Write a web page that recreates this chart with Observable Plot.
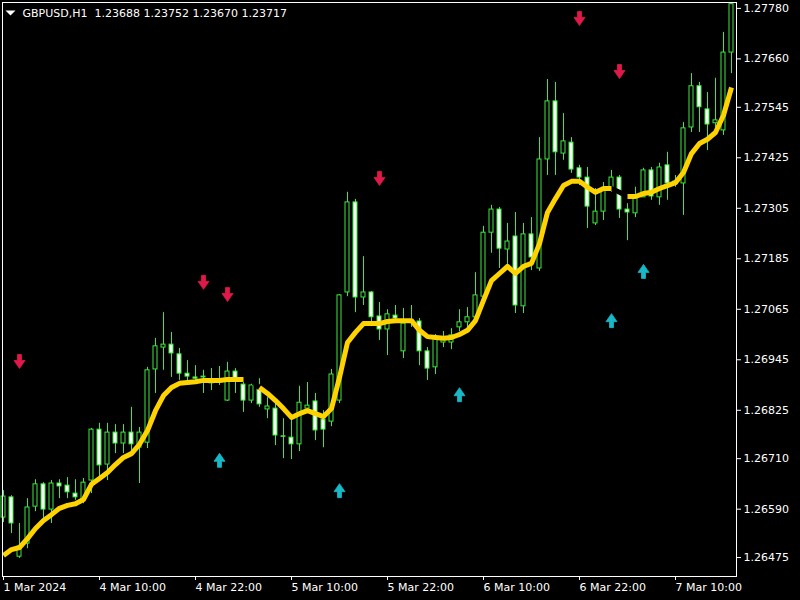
<!DOCTYPE html>
<html>
<head>
<meta charset="utf-8">
<script src="https://cdn.jsdelivr.net/npm/d3@7"></script>
<script src="https://cdn.jsdelivr.net/npm/@observablehq/plot@0.6"></script>
<style>
  html, body { margin: 0; padding: 0; background: #000; }
  #chart svg { display: block; }
</style>
</head>
<body>
<div id="chart"></div>
<script>
// ---- data (H1 candles, index 0 = 1 Mar 22:00) ----
const opens = [
1.26570, 1.26618, 1.26477, 1.26508, 1.26596, 1.26649, 1.26589, 1.26651, 1.26646, 1.26627,
1.26611, 1.26658, 1.26779, 1.26696, 1.26772, 1.26746, 1.26772, 1.26736, 1.26748, 1.26922,
1.26974, 1.26981, 1.26958, 1.26912, 1.26903, 1.26903, 1.26893, 1.26891, 1.26848, 1.26917,
1.26886, 1.26848, 1.26874, 1.26827, 1.26829, 1.26763, 1.26760, 1.26744, 1.26829, 1.26846,
1.26803, 1.26798, 1.26848, 1.27105, 1.27319, 1.27093, 1.27105, 1.27048, 1.27017, 1.27050,
1.26965, 1.27034, 1.27036, 1.26965, 1.26927, 1.26986, 1.26986, 1.27022, 1.27034, 1.27046,
1.27095, 1.27247, 1.27302, 1.27207, 1.27238, 1.27072, 1.27243, 1.27162, 1.27421, 1.27559,
1.27435, 1.27461, 1.27400, 1.27378, 1.27269, 1.27297, 1.27352, 1.27378, 1.27302, 1.27293,
1.27331, 1.27395, 1.27331, 1.27407, 1.27364, 1.27364, 1.27497, 1.27595, 1.27540, 1.27507,
1.27490, 1.27675
];
const highs = [
1.26634, 1.26622, 1.26556, 1.26615, 1.26660, 1.26653, 1.26658, 1.26660, 1.26665, 1.26660,
1.26663, 1.26782, 1.26794, 1.26794, 1.26791, 1.26791, 1.26832, 1.26784, 1.26927, 1.26996,
1.27057, 1.27010, 1.26972, 1.26943, 1.26931, 1.26920, 1.26924, 1.26929, 1.26939, 1.26924,
1.26903, 1.26900, 1.26900, 1.26855, 1.26841, 1.26805, 1.26805, 1.26882, 1.26891, 1.26865,
1.26824, 1.26922, 1.27100, 1.27343, 1.27326, 1.27190, 1.27107, 1.27081, 1.27064, 1.27074,
1.27067, 1.27074, 1.27043, 1.26974, 1.27005, 1.27012, 1.27019, 1.27064, 1.27069, 1.27152,
1.27262, 1.27312, 1.27307, 1.27269, 1.27295, 1.27269, 1.27283, 1.27473, 1.27611, 1.27604,
1.27530, 1.27473, 1.27407, 1.27402, 1.27352, 1.27366, 1.27395, 1.27383, 1.27316, 1.27355,
1.27400, 1.27402, 1.27412, 1.27438, 1.27383, 1.27509, 1.27625, 1.27604, 1.27580, 1.27614,
1.27723, 1.27794
];
const lows = [
1.26558, 1.26532, 1.26473, 1.26496, 1.26584, 1.26568, 1.26556, 1.26615, 1.26615, 1.26611,
1.26603, 1.26627, 1.26663, 1.26658, 1.26722, 1.26722, 1.26722, 1.26651, 1.26734, 1.26865,
1.26920, 1.26903, 1.26896, 1.26891, 1.26889, 1.26865, 1.26872, 1.26884, 1.26846, 1.26865,
1.26820, 1.26841, 1.26832, 1.26805, 1.26741, 1.26710, 1.26708, 1.26727, 1.26820, 1.26753,
1.26736, 1.26786, 1.26841, 1.27095, 1.27057, 1.27074, 1.27034, 1.26991, 1.26955, 1.27031,
1.26948, 1.27022, 1.26931, 1.26896, 1.26910, 1.26974, 1.26969, 1.27012, 1.27019, 1.27038,
1.27086, 1.27198, 1.27162, 1.27164, 1.27055, 1.27055, 1.27157, 1.27155, 1.27383, 1.27383,
1.27419, 1.27388, 1.27359, 1.27257, 1.27264, 1.27276, 1.27343, 1.27281, 1.27228, 1.27283,
1.27331, 1.27324, 1.27312, 1.27324, 1.27355, 1.27288, 1.27485, 1.27485, 1.27442, 1.27485,
1.27478, 1.27625
];
const closes = [
1.26620, 1.26556, 1.26501, 1.26594, 1.26649, 1.26589, 1.26651, 1.26644, 1.26630, 1.26618,
1.26653, 1.26779, 1.26694, 1.26772, 1.26746, 1.26772, 1.26744, 1.26772, 1.26920, 1.26977,
1.26981, 1.26960, 1.26912, 1.26905, 1.26900, 1.26905, 1.26889, 1.26893, 1.26917, 1.26896,
1.26848, 1.26884, 1.26839, 1.26834, 1.26765, 1.26762, 1.26744, 1.26843, 1.26836, 1.26777,
1.26779, 1.26910, 1.27098, 1.27319, 1.27093, 1.27105, 1.27046, 1.27017, 1.27053, 1.27043,
1.27031, 1.27036, 1.26965, 1.26924, 1.26998, 1.26998, 1.27003, 1.27034, 1.27046, 1.27098,
1.27247, 1.27302, 1.27209, 1.27226, 1.27074, 1.27243, 1.27188, 1.27421, 1.27559, 1.27438,
1.27464, 1.27397, 1.27378, 1.27309, 1.27297, 1.27347, 1.27378, 1.27302, 1.27295, 1.27331,
1.27395, 1.27333, 1.27402, 1.27364, 1.27369, 1.27495, 1.27595, 1.27545, 1.27504, 1.27514,
1.27675, 1.27790
];
// moving average (yellow line)
const ma = [
1.26480, 1.26494, 1.26499, 1.26520, 1.26544, 1.26563, 1.26577, 1.26592, 1.26599, 1.26603,
1.26613, 1.26649, 1.26663, 1.26677, 1.26696, 1.26713, 1.26722, 1.26744, 1.26777, 1.26824,
1.26860, 1.26879, 1.26889, 1.26891, 1.26893, 1.26896, 1.26896, 1.26896, 1.26898, 1.26898,
1.26898, 1.26896, 1.26879, 1.26865, 1.26848, 1.26829, 1.26808, 1.26817, 1.26824, 1.26817,
1.26810, 1.26829, 1.26903, 1.26986, 1.27010, 1.27031, 1.27031, 1.27031, 1.27036, 1.27038,
1.27038, 1.27038, 1.27015, 1.27000, 1.26998, 1.26996, 1.26998, 1.27005, 1.27015, 1.27038,
1.27086, 1.27133, 1.27150, 1.27167, 1.27150, 1.27167, 1.27174, 1.27221, 1.27295, 1.27328,
1.27359, 1.27369, 1.27369, 1.27355, 1.27343, 1.27352, 1.27352, 1.27343, 1.27333, 1.27333,
1.27340, 1.27343, 1.27352, 1.27359, 1.27366, 1.27390, 1.27435, 1.27459, 1.27469, 1.27485,
1.27526, 1.27592
];
// stretches where the line is drawn in black (hidden on the black background)
const maBlackRanges = [[30, 32], [76, 78]];

// signal arrows
const downIdx = [2, 25, 28, 47, 72, 77];
const downPrice = [1.26941, 1.27129, 1.27100, 1.27376, 1.27756, 1.27630];
const upIdx = [27, 42, 57, 76, 80];
const upPrice = [1.26706, 1.26634, 1.26862, 1.27038, 1.27155];

// axes
const yTicks = [1.26475, 1.26590, 1.26710, 1.26825, 1.26945, 1.27065, 1.27185, 1.27305, 1.27425, 1.27545, 1.27660, 1.27780];
const xTickIdx = [0, 12, 24, 36, 48, 60, 72, 84];
const xTickLabels = ["1 Mar 2024", "4 Mar 10:00", "4 Mar 22:00", "5 Mar 10:00", "5 Mar 22:00", "6 Mar 10:00", "6 Mar 22:00", "7 Mar 10:00"];
const titleText = "GBPUSD,H1\u00a0\u00a01.23688 1.23752 1.23670 1.23717";

// ---- build ----
const GREEN = "#3ee83e";
const RED = "#e0194a";
const CYAN = "#17b8c8";
const YELLOW = "#ffd200";

const idx = d3.range(opens.length);
const candles = idx.map(i => ({i, o: opens[i], h: highs[i], l: lows[i], c: closes[i]}));
const inBlack = i => maBlackRanges.some(([a, b]) => i >= a && i <= b);
const inBlackInner = i => maBlackRanges.some(([a, b]) => i > a && i < b);
const maPts = idx.map(i => ({i, yellow: inBlackInner(i) ? NaN : ma[i], black: inBlack(i) ? ma[i] : NaN}));
const downs = downIdx.map((i, k) => ({i, p: downPrice[k]}));
const ups = upIdx.map((i, k) => ({i, p: upPrice[k]}));
const xLabelMap = new Map(xTickIdx.map((d, k) => [d, xTickLabels[k]]));

const arrowDown = {draw(ctx) {
  ctx.moveTo(-2, -7); ctx.lineTo(2, -7); ctx.lineTo(2, -1); ctx.lineTo(5.5, -1);
  ctx.lineTo(0, 7); ctx.lineTo(-5.5, -1); ctx.lineTo(-2, -1); ctx.closePath();
}};
const arrowUp = {draw(ctx) {
  ctx.moveTo(-2, 7); ctx.lineTo(2, 7); ctx.lineTo(2, 1); ctx.lineTo(5.5, 1);
  ctx.lineTo(0, -7); ctx.lineTo(-5.5, 1); ctx.lineTo(-2, 1); ctx.closePath();
}};
const triDown = {draw(ctx) {
  ctx.moveTo(-5, -2.5); ctx.lineTo(5, -2.5); ctx.lineTo(0, 2.5); ctx.closePath();
}};

const chart = Plot.plot({
  width: 800,
  height: 600,
  marginLeft: 2,
  marginRight: 64,
  marginTop: 2,
  marginBottom: 24,
  style: {background: "#000", color: "#fff", fontFamily: "DejaVu Sans", fontSize: "11px"},
  x: {type: "linear", domain: [-0.125, 91.625]},
  y: {type: "linear", domain: [1.26430, 1.27794]},
  marks: [
    Plot.ruleX(candles, {x: "i", y1: "l", y2: "h", stroke: GREEN, strokeWidth: 1}),
    Plot.rect(candles, {filter: d => d.c >= d.o, x1: d => d.i - 0.25, x2: d => d.i + 0.25, y1: "o", y2: "c", fill: "#000", stroke: GREEN, strokeWidth: 1}),
    Plot.rect(candles, {filter: d => d.c < d.o, x1: d => d.i - 0.25, x2: d => d.i + 0.25, y1: "o", y2: "c", fill: "#f4fff4", stroke: GREEN, strokeWidth: 1}),
    Plot.line(maPts, {x: "i", y: "black", stroke: "#000", strokeWidth: 5, strokeLinejoin: "round"}),
    Plot.line(maPts, {x: "i", y: "yellow", stroke: YELLOW, strokeWidth: 5, strokeLinejoin: "round", strokeLinecap: "butt"}),
    Plot.dot(downs, {x: "i", y: "p", symbol: arrowDown, fill: RED, stroke: RED, strokeWidth: 0.8}),
    Plot.dot(ups, {x: "i", y: "p", symbol: arrowUp, fill: CYAN, stroke: CYAN, strokeWidth: 0.8}),
    Plot.frame({stroke: "#fff", strokeWidth: 1}),
    Plot.axisY({anchor: "right", ticks: yTicks, tickSize: 4, tickPadding: 3, tickFormat: d => d.toFixed(5), color: "#fff", fontSize: 11, label: null}),
    Plot.axisX({anchor: "bottom", ticks: xTickIdx, tickSize: 4, tickPadding: 3, tickFormat: d => xLabelMap.get(d), textAnchor: "start", color: "#fff", fontSize: 11, label: null}),
    Plot.dot([0], {frameAnchor: "top-left", dx: 8, dy: 10.5, symbol: triDown, fill: "#fff", stroke: "none"}),
    Plot.text([titleText], {frameAnchor: "top-left", dx: 20, dy: 11, text: d => d, textAnchor: "start", lineAnchor: "middle", fill: "#fff", fontSize: 11})
  ]
});
document.getElementById("chart").appendChild(chart);
</script>
</body>
</html>
